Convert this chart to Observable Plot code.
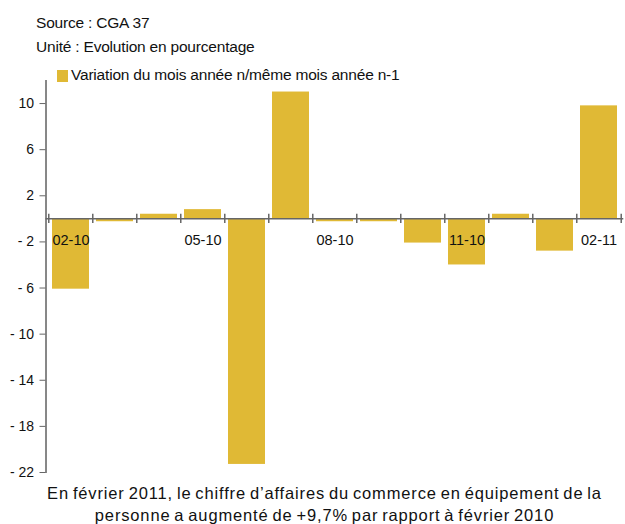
<!DOCTYPE html>
<html>
<head>
<meta charset="utf-8">
<script src="https://cdn.jsdelivr.net/npm/d3@7"></script>
<script src="https://cdn.jsdelivr.net/npm/@observablehq/plot@0.6"></script>
<style>
  body { margin: 0; background: #fff; font-family: "Liberation Sans", Arial, sans-serif; color: #111; }
  #wrap { position: relative; width: 625px; height: 524px; overflow: hidden; }
  .hdr { position: absolute; font-size: 15.5px; line-height: 16px; letter-spacing: -0.2px; white-space: nowrap; }
  #leg-sw { position: absolute; left: 57px; top: 70px; width: 11px; height: 12px; background: #E0B935; }
  #caption { position: absolute; left: 12px; width: 625px; top: 482px; text-align: center; font-size: 16.5px; line-height: 22px; letter-spacing: 0.85px; word-spacing: -1.5px; white-space: nowrap; }
  #chart { position: absolute; left: 0; top: 0; }
</style>
</head>
<body>
<div id="wrap">
  <div id="chart"></div>
  <div class="hdr" id="src" style="left:36px; top:15px"></div>
  <div class="hdr" id="unit" style="left:36px; top:39px"></div>
  <div id="leg-sw"></div>
  <div class="hdr" id="leg" style="left:71px; top:67px"></div>
  <div id="caption"></div>
</div>
<script>
const sourceText = "Source : CGA 37";
const unitText = "Unité : Evolution en pourcentage";
const legendText = "Variation du mois année n/même mois année n-1";
const captionLines = [
  "En février 2011, le chiffre d\u2019affaires du commerce en équipement de la",
  "personne a augmenté de +9,7% par rapport à février 2010"
];
const months = ["02-10","03-10","04-10","05-10","06-10","07-10","08-10","09-10","10-10","11-10","12-10","01-11","02-11"];
const values = [-6.1, -0.25, 0.4, 0.8, -21.3, 11.0, -0.25, -0.25, -2.1, -4.0, 0.4, -2.8, 9.8];
const labelMonths = ["02-10","05-10","08-10","11-10","02-11"];
const yTicks = [10, 6, 2, -2, -6, -10, -14, -18, -22];

document.getElementById("src").textContent = sourceText;
document.getElementById("unit").textContent = unitText;
document.getElementById("leg").textContent = legendText;
document.getElementById("caption").innerHTML = captionLines.map(l => `<div>${l}</div>`).join("");

const data = months.map((m, i) => ({month: m, value: values[i]}));
const W = 625, mL = 45.5, mR = 1.7;
const step = (W - mL - mR) / months.length;
const axisColor = "#666";

const plot = Plot.plot({
  width: W,
  height: 480,
  marginTop: 80,
  marginBottom: 8,
  marginLeft: mL,
  marginRight: mR,
  style: {fontFamily: "Liberation Sans, Arial, sans-serif", fontSize: "14px", color: "#111", background: "transparent"},
  x: {domain: months, paddingInner: 0.17, paddingOuter: 0.085, axis: null},
  y: {domain: [-22, 12], ticks: yTicks, tickSize: 6, tickPadding: 6, tickFormat: d => d < 0 ? "- " + Math.abs(d) : String(d), label: null, line: true},
  marks: [
    Plot.barY(data, {x: "month", y: "value", fill: "#E0B935"}),
    Plot.ruleY([0], {stroke: axisColor, strokeWidth: 1.5}),
    Plot.ruleX(months, {x: d => d, dx: -step / 2, y1: -0.4, y2: 0.4, stroke: axisColor, strokeWidth: 1.5}),
    Plot.ruleX([months[months.length - 1]], {x: d => d, dx: step / 2, y1: -0.4, y2: 0.4, stroke: axisColor, strokeWidth: 1.5}),
    Plot.text(labelMonths, {x: d => d, y: 0, dy: 22, text: d => d, fontSize: 14.5, fill: "#111", letterSpacing: "0.6px"})
  ]
});
plot.querySelectorAll("[aria-label='y-axis tick'], [aria-label='y-axis line']").forEach(g => g.setAttribute("stroke", axisColor));
document.getElementById("chart").appendChild(plot);
</script>
</body>
</html>
